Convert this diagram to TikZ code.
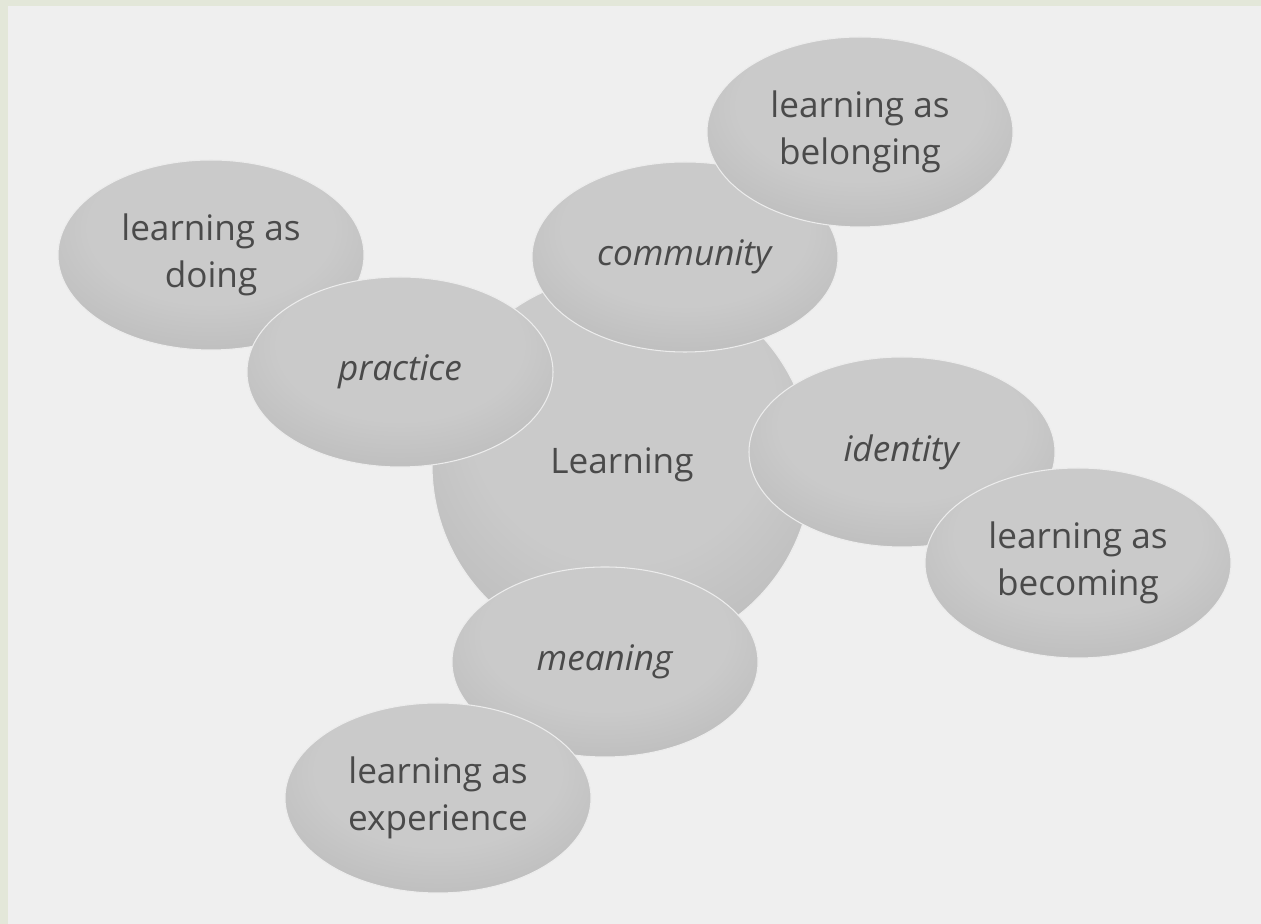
\documentclass[tikz,border=0pt]{standalone}
\usepackage{fontspec}
\setmainfont{Open Sans}
\usetikzlibrary{shapes.geometric}

\definecolor{paper}{HTML}{EFEFEF}
\definecolor{rim}{HTML}{E3E7D9}
\definecolor{blobin}{HTML}{CACACA}
\definecolor{blobout}{HTML}{A9A9A9}
\definecolor{ink}{HTML}{4A4A4A}
\pgfdeclareradialshading{blobshade}{\pgfpoint{0bp}{12bp}}{color(0bp)=(blobin); color(20bp)=(blobin); color(50bp)=(blobout)}

\begin{document}
\begin{tikzpicture}
    \tikzstyle{blob} = [ellipse,shading=blobshade,draw=white!85!gray,line width=0.6pt,minimum width=6.12cm,minimum height=3.8cm,inner sep=0pt,text=ink,align=center,font=\fontsize{20}{27}\selectfont]
    \tikzstyle{hub} = [blob,circle,minimum size=7.6cm]

    % page with the grey-green strip on the left and top
    \fill[paper] (0,0) rectangle (25.22,18.48);
    \fill[rim] (0,0) rectangle (0.16,18.48);
    \fill[rim] (0,18.36) rectangle (25.22,18.48);
    \useasboundingbox (0,0) rectangle (25.22,18.48);

    \node[blob] (doing) at (4.22,13.38) {learning as\\doing};
    \node[hub] (learning) at (12.44,9.18) {Learning};
    \node[blob] (practice) at (8.00,11.04) {\textit{practice}};
    \node[blob] (community) at (13.70,13.34) {\textit{community}};
    \node[blob] (belonging) at (17.20,15.84) {learning as\\belonging};
    \node[blob] (identity) at (18.04,9.44) {\textit{identity}};
    \node[blob] (becoming) at (21.56,7.22) {learning as\\becoming};
    \node[blob] (meaning) at (12.10,5.24) {\textit{meaning}};
    \node[blob] (experience) at (8.76,2.52) {learning as\\experience};

\end{tikzpicture}
\end{document}
